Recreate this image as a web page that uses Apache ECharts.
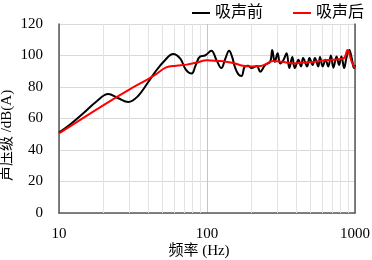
<!DOCTYPE html>
<html>
<head>
<meta charset="utf-8">
<script src="https://cdn.jsdelivr.net/npm/echarts@6/dist/echarts.min.js"></script>
<style>html,body{margin:0;padding:0;background:#fff}#c{width:372px;height:260px}</style>
</head>
<body>
<div id="c"></div>
<script>
var seriesNames = ['吸声前', '吸声后'];
var xTicks = [10, 100, 1000];
var minorGrid = [20, 30, 40, 50, 60, 70, 80, 90, 200, 300, 400, 500, 600, 700, 800, 900];
var yTicks = [0, 20, 40, 60, 80, 100, 120];

var beforeFreq = [10, 12, 14.6, 18, 21.5, 25, 29.4, 34, 40, 45, 52, 59, 66, 72, 78.7, 84, 90, 97, 107, 116, 125, 133, 141, 148, 154, 163, 171, 180, 190, 200, 217, 229, 247, 267, 276, 287, 300, 312, 328, 345, 360, 377, 392, 415, 432, 446, 475, 492, 518, 536, 565, 580, 605, 632, 660, 687, 715, 750, 780, 810, 845, 875, 915, 950, 985, 1000];
var beforeVal = [51, 56.5, 63.3, 71, 75.5, 73, 70.5, 74, 83, 90, 97, 101, 98, 91, 88.5, 94, 99.5, 100, 103, 97, 92, 98, 103, 99, 93, 88, 87, 93, 93.5, 92, 93.3, 89.7, 94, 96, 103.5, 96, 101.4, 95, 97, 101.4, 92, 99, 92, 97.3, 93, 98.4, 93, 98.4, 94, 98.4, 93, 99, 93, 97.3, 93, 100, 92.3, 99.4, 94, 99.4, 92, 98.4, 103.5, 98.4, 92, 94];

var afterFreq = [10, 20, 30, 40, 45, 53, 62, 73, 85, 100, 119, 135, 150, 175, 200, 230, 250, 280, 320, 380, 450, 550, 650, 750, 840, 890, 950, 1000];
var afterVal = [50.5, 68.5, 78.5, 85, 88, 92.5, 93.5, 94.2, 95.5, 97, 96.5, 96, 95.3, 93.5, 93, 93.3, 94.5, 96.5, 96, 95, 95.5, 96.2, 97.2, 97.5, 98.2, 103.5, 96, 92];

function pairs(xs, ys) { return xs.map(function (x, i) { return [x, ys[i]]; }); }

var serif = 'Liberation Serif, Times New Roman, serif';
var cjk = '"Liberation Serif", "Noto Sans CJK SC", serif';

var chart = echarts.init(document.getElementById('c'), null, { renderer: 'canvas' });
chart.setOption({
  animation: false,
  backgroundColor: '#fff',
  grid: { left: 59, right: 17, top: 24, bottom: 47, containLabel: false, outerBoundsMode: 'none' },
  legend: {
    right: 3, top: 0,
    itemWidth: 18, itemHeight: 2, itemGap: 30,
    icon: 'rect',
    textStyle: { fontFamily: cjk, fontSize: 16, color: '#000' },
    data: seriesNames
  },
  xAxis: {
    type: 'log', logBase: 10, min: xTicks[0], max: xTicks[xTicks.length - 1],
    name: '频率 (Hz)', nameLocation: 'middle', nameGap: 31, nameMoveOverlap: false,
    nameTextStyle: { fontFamily: cjk, fontSize: 15, color: '#000', padding: [0, 16, 0, 0] },
    axisLine: { lineStyle: { color: '#595959', width: 1.5 } },
    axisTick: { show: false },
    axisLabel: { fontFamily: serif, fontSize: 15, color: '#000', margin: 14,
      formatter: function (v) { return String(Math.round(v)); } },
    splitLine: { show: true, lineStyle: { color: '#c4c4c4', width: 1 } }
  },
  yAxis: [{
    type: 'value', min: 0, max: 120, interval: 20,
    name: '声压级 /dB(A)', nameLocation: 'middle', nameGap: 44, nameRotate: 90, nameMoveOverlap: false,
    nameTextStyle: { fontFamily: cjk, fontSize: 15, color: '#000', padding: [0, 34, 0, 0] },
    axisLine: { show: true, lineStyle: { color: '#595959', width: 1.5 } },
    axisTick: { show: false },
    axisLabel: { fontFamily: serif, fontSize: 15, color: '#000', margin: 16 },
    splitLine: { show: true, lineStyle: { color: '#d9d9d9', width: 1 } }
  }, {
    type: 'value', min: 0, max: 120, interval: 20, position: 'right',
    axisLine: { show: true, lineStyle: { color: '#595959', width: 1.5 } },
    axisTick: { show: false }, axisLabel: { show: false }, splitLine: { show: false }
  }],
  series: [{
    type: 'line', name: '_grid', data: [], silent: true, z: 1,
    markLine: {
      silent: true, symbol: 'none', label: { show: false }, z: 1,
      lineStyle: { color: '#e3e3e3', width: 1, type: 'solid' },
      data: minorGrid.map(function (v) { return { xAxis: v }; })
    }
  }, {
    type: 'line', name: seriesNames[0], data: pairs(beforeFreq, beforeVal),
    smooth: 0.4, showSymbol: false, z: 3,
    lineStyle: { color: '#000', width: 2 }, itemStyle: { color: '#000' }
  }, {
    type: 'line', name: seriesNames[1], data: pairs(afterFreq, afterVal),
    smooth: 0.4, showSymbol: false, z: 4,
    lineStyle: { color: '#ff0000', width: 2 }, itemStyle: { color: '#ff0000' }
  }]
});
</script>
</body>
</html>
